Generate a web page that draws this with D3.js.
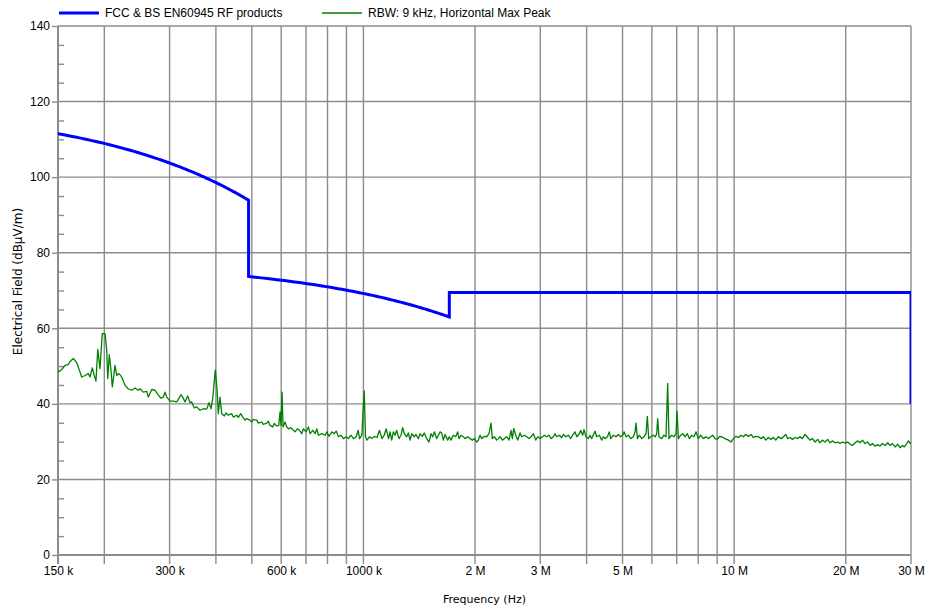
<!DOCTYPE html>
<html>
<head>
<meta charset="utf-8">
<script src="https://cdn.jsdelivr.net/npm/d3@7"></script>
<style>
  body { margin: 0; background: #fff; }
  svg text { font-family: "Liberation Sans", Arial, sans-serif; font-size: 12px; fill: #000; }
  .title { font-family: "DejaVu Sans", Verdana, sans-serif; font-size: 11px; }
  .title.y { font-size: 12px; }
</style>
</head>
<body>
<svg id="chart" width="931" height="613"></svg>
<script>
// limit line (kHz / dBµV/m)
var limitFreqKHz = [150, 490, 490, 1705, 1705, 30000, 30000];
var limitLevel = [111.5, 93.9, 73.7, 63.0, 69.5, 69.5, 40];

var traceFreqKHz = [
  150, 153.5, 156.7, 159.9, 161.6, 165, 168.5, 172, 173.8, 177.4, 181.1, 183, 185.6, 187.9, 189.9, 192, 194.7, 197.5, 200.9, 203,
  204.3, 206.3, 208.5, 210.2, 213.8, 216, 218.2, 220.5, 222.8, 227.4, 232.1, 237.1, 242, 247, 249.6, 254.8, 260.3, 262.9, 268.5, 274,
  279.7, 284.5, 288.6, 291.6, 294.7, 300.8, 307, 313.5, 316.7, 322, 326.7, 330.1, 335.7, 340.6, 344.2, 349.8, 355.1, 362.4, 369.9, 377.7,
  383.2, 388, 392.1, 398.5, 402.7, 406, 410.3, 414.7, 421.5,
  425.9, 432, 441.2, 445.7, 455.2, 459.7, 466.6, 472.5, 479.3, 484.4, 494.4, 499.7, 504.7, 515.4, 520.5, 531.6, 536.9, 548.4, 553.9, 559.8,
  569.3, 575.1, 583.7, 591, 595.8, 599.5, 603.3, 607, 614.6, 621.1, 627.4, 636.7, 647.1, 654, 663.4, 671.8, 681.9, 688.7, 700.4, 710.5,
  718.1, 730.2, 740.8, 748.7, 756.2, 772.3, 788.4, 796.8, 806.8, 822, 834, 844.4, 856.5, 869.4, 883.5, 898.5, 911.4, 925.1, 940.2, 956.1,
  968.1, 976, 990.6, 996.9, 1005, 1013, 1022, 1039, 1054, 1070, 1088, 1105, 1122, 1138, 1152, 1169,
  1180, 1192, 1204, 1217, 1229, 1247, 1263, 1276, 1289, 1308, 1322, 1336, 1350, 1372, 1386, 1407, 1421, 1442, 1460, 1481,
  1503, 1522, 1538, 1554, 1576, 1593, 1610, 1626, 1643, 1660, 1688, 1705, 1723, 1748, 1774, 1796, 1811, 1834, 1861, 1880,
  1911, 1939, 1968, 1992, 2021, 2042, 2063, 2085, 2120, 2151, 2182, 2209, 2227, 2255, 2288, 2312, 2336, 2370, 2400, 2435,
  2471, 2501, 2522, 2543, 2575, 2607, 2645, 2673, 2718, 2758, 2798, 2832, 2874, 2916, 2952, 2995, 3039, 3077, 3122, 3168,
  3207, 3254,
  3287, 3321, 3377, 3426, 3462, 3520, 3571, 3623, 3668, 3722, 3761, 3824, 3855, 3904, 3936, 3985, 4043, 4085, 4128, 4215,
  4258, 4330, 4393, 4439, 4485, 4551, 4607, 4646, 4722, 4801, 4872, 4943, 5005, 5047, 5110, 5184, 5260, 5349, 5404, 5437,
  5483, 5550, 5632, 5714, 5785, 5833, 5882, 5955, 6055, 6130, 6181, 6219, 6271, 6376, 6469, 6550, 6618, 6673, 6785, 6885,
  6971, 7014, 7072, 7176, 7266, 7372, 7480, 7573, 7684, 7796, 7892, 8007, 8125, 8261, 8399, 8521, 8646, 8754, 8881, 9011,
  9124,
  9258, 9452, 9650, 9811, 9953, 10099, 10268, 10439, 10592, 10747, 10926, 11108, 11270, 11435, 11627, 11820, 11994, 12169, 12372, 12579,
  12763, 12950, 13163, 13383, 13579, 13778, 13950, 14155, 14362, 14602, 14847, 15063, 15284, 15535, 15795, 16027, 16260, 16532, 16808, 17050,
  17300, 17589, 17883, 18145, 18410, 18719, 19032, 19310, 19591, 19919, 20252, 20548, 20849, 21197, 21552, 21866, 22182, 22553, 22930, 23266,
  23606, 24001, 24402, 24756, 25118, 25539, 25966, 26345, 26731, 27177, 27632, 28037, 28447, 28796, 29213, 29517, 29887, 30000
];
var traceLevel = [
  48.4, 49.1, 50.2, 50.4, 51.2, 52.0, 50.9, 48.4, 47.1, 47.5, 48.0, 47.1, 49.5, 47.5, 46.0, 54.4, 49.3, 58.6, 58.6, 54.1,
  46.7, 53.0, 48.9, 44.5, 50.2, 47.5, 48.0, 47.7, 47.1, 44.9, 44.0, 43.6, 44.2, 43.6, 44.0, 43.1, 43.3, 41.8, 43.8, 43.6,
  42.3, 41.5, 41.8, 43.1, 41.8, 40.7, 40.7, 40.5, 41.2, 42.4, 41.5, 40.5, 42.1, 40.3, 40.5, 38.9, 39.2, 38.3, 38.7, 38.6,
  40.3, 38.7, 41.4, 49.0, 44.0, 37.4, 41.8, 37.4, 36.8,
  37.6, 37.0, 37.4, 36.5, 37.0, 36.4, 37.4, 36.5, 35.7, 36.1, 35.7, 35.2, 35.8, 35.7, 34.9, 35.2, 34.6, 34.9, 35.4, 34.3,
  33.9, 34.8, 34.1, 34.3, 37.9, 34.3, 43.1, 33.9, 35.2, 33.9, 33.4, 33.7, 33.0, 32.6, 33.4, 33.0, 32.1, 33.4, 32.6, 33.9,
  32.1, 33.0, 32.1, 33.4, 31.7, 32.1, 31.7, 32.6, 31.4, 32.6, 32.1, 32.8, 31.3, 31.7, 30.8, 31.3, 30.8, 31.7, 30.8, 31.3,
  33.0, 30.8, 31.7, 37.4, 43.4, 31.3, 30.4, 31.3, 30.8, 31.4, 31.1, 33.0, 30.8, 31.7, 33.4, 30.8,
  32.6, 30.4, 32.6, 31.7, 33.0, 30.8, 31.7, 33.7, 32.1, 31.3, 32.3, 30.4, 32.1, 31.3, 31.9, 30.8, 32.1, 31.4, 32.3, 30.8,
  29.9, 32.1, 31.3, 32.6, 30.8, 31.7, 32.6, 32.3, 30.4, 31.9, 30.4, 31.3, 30.4, 31.7, 31.3, 32.6, 30.8, 31.7, 31.3, 30.8,
  31.3, 30.8, 30.4, 30.8, 29.9, 30.4, 31.7, 30.8, 31.4, 31.3, 32.1, 34.9, 30.8, 31.3, 30.4, 30.8, 31.3, 30.4, 30.8, 31.3,
  30.4, 33.0, 30.8, 33.5, 31.7, 30.4, 32.3, 31.3, 31.7, 31.3, 30.8, 31.3, 32.1, 30.4, 31.3, 30.8, 31.3, 31.7, 31.3, 31.7,
  30.8, 31.3,
  32.1, 31.3, 31.7, 31.1, 31.9, 31.3, 31.7, 30.8, 31.7, 32.6, 31.3, 32.1, 33.0, 31.7, 33.2, 31.3, 30.8, 31.7, 30.8, 32.8,
  31.3, 31.7, 30.4, 31.3, 30.8, 31.3, 32.6, 30.8, 31.7, 31.3, 31.9, 31.3, 31.7, 32.6, 31.3, 31.7, 30.8, 31.3, 32.6, 34.9,
  30.8, 31.7, 30.8, 31.3, 32.1, 36.7, 30.8, 31.3, 31.7, 31.3, 32.1, 36.1, 31.3, 30.8, 31.7, 31.3, 45.4, 30.8, 31.7, 31.3,
  32.1, 38.1, 30.8, 31.7, 32.1, 31.3, 32.1, 30.8, 31.7, 31.3, 32.6, 30.8, 31.7, 30.8, 31.3, 30.8, 31.3, 31.7, 30.8, 30.6,
  31.3,
  31.3, 30.8, 30.4, 29.9, 30.8, 31.4, 31.1, 31.7, 31.3, 31.9, 31.4, 31.9, 31.1, 31.4, 31.3, 30.8, 31.3, 30.4, 31.1, 30.6,
  31.1, 30.4, 31.3, 30.8, 31.3, 31.9, 30.8, 31.1, 30.6, 31.1, 30.8, 31.3, 30.8, 31.9, 31.1, 30.4, 30.8, 29.9, 30.6, 29.7,
  30.4, 29.9, 30.6, 29.7, 30.2, 29.7, 29.9, 29.5, 29.9, 29.7, 29.9, 29.3, 29.0, 29.7, 30.2, 29.7, 30.4, 29.5, 29.9, 29.0,
  29.5, 28.8, 29.2, 28.8, 29.5, 29.0, 29.7, 29.0, 29.5, 28.6, 29.3, 28.4, 29.0, 28.6, 29.5, 30.2, 29.5, 29.8
];

var seriesNames = ["FCC & BS EN60945 RF products", "RBW: 9 kHz, Horizontal Max Peak"];
var seriesColors = ["#0000ff", "#008000"];

var xGridFreqKHz = [200, 300, 400, 500, 600, 700, 800, 900, 1000, 2000, 3000, 4000, 5000, 6000, 7000, 8000, 9000, 10000, 20000, 30000];
var xLabelFreqKHz = [150, 300, 600, 1000, 2000, 3000, 5000, 10000, 20000, 30000];
var xLabelText = ["150 k", "300 k", "600 k", "1000 k", "2 M", "3 M", "5 M", "10 M", "20 M", "30 M"];
var yMajorTicks = [0, 20, 40, 60, 80, 100, 120, 140];
var yMinorTicks = [5, 10, 15, 25, 30, 35, 45, 50, 55, 65, 70, 75, 85, 90, 95, 105, 110, 115, 125, 130, 135];

var plotLeft = 58, plotRight = 911, plotTop = 26, plotBottom = 555;
var gridColor = "#8c8c8c";

var svg = d3.select("#chart");

var xScale = d3.scaleLog().domain([150, 30000]).range([plotLeft, plotRight]);
var yScale = d3.scaleLinear().domain([0, 140]).range([plotBottom, plotTop]);

svg.append("clipPath").attr("id", "plotClip")
  .append("rect")
  .attr("x", plotLeft).attr("y", plotTop)
  .attr("width", plotRight - plotLeft).attr("height", plotBottom - plotTop);

// vertical grid, running a little below the axis as tick marks
svg.append("g").selectAll("line")
  .data(xGridFreqKHz)
  .enter().append("line")
  .attr("x1", function (d) { return xScale(d); })
  .attr("x2", function (d) { return xScale(d); })
  .attr("y1", plotTop)
  .attr("y2", plotBottom + 9)
  .attr("stroke", gridColor)
  .attr("stroke-width", 1.4);

// horizontal grid
svg.append("g").selectAll("line")
  .data(yMajorTicks.filter(function (d) { return d > 0; }))
  .enter().append("line")
  .attr("x1", plotLeft)
  .attr("x2", plotRight)
  .attr("y1", function (d) { return yScale(d); })
  .attr("y2", function (d) { return yScale(d); })
  .attr("stroke", gridColor)
  .attr("stroke-width", 1.4);

// x labels
var xAxis = svg.append("g")
  .attr("transform", "translate(0," + plotBottom + ")")
  .call(d3.axisBottom(xScale).tickValues(xLabelFreqKHz).tickSize(0).tickPadding(11)
    .tickFormat(function (d, i) { return xLabelText[i]; }));
xAxis.select(".domain").remove();
xAxis.selectAll("text").attr("font-family", null).attr("font-size", null);

// y axis
var yAxis = svg.append("g")
  .attr("transform", "translate(" + plotLeft + ",0)")
  .call(d3.axisLeft(yScale).tickValues(yMajorTicks).tickSize(6).tickPadding(2));
yAxis.select(".domain").remove();
yAxis.selectAll("line").attr("stroke", gridColor).attr("stroke-width", 1.4);
yAxis.selectAll("text").attr("font-family", null).attr("font-size", null);

var yMinor = svg.append("g")
  .attr("transform", "translate(" + plotLeft + ",0)")
  .call(d3.axisRight(yScale).tickValues(yMinorTicks).tickSize(6).tickFormat(""));
yMinor.select(".domain").remove();
yMinor.selectAll("line").attr("stroke", gridColor).attr("stroke-width", 1.4);

// axis lines
svg.append("line")
  .attr("x1", plotLeft).attr("x2", plotLeft).attr("y1", plotTop).attr("y2", plotBottom + 9)
  .attr("stroke", gridColor).attr("stroke-width", 2);
svg.append("line")
  .attr("x1", plotLeft).attr("x2", plotRight).attr("y1", plotBottom).attr("y2", plotBottom)
  .attr("stroke", gridColor).attr("stroke-width", 2);

// measured trace
var traceLine = d3.line()
  .x(function (d) { return xScale(d[0]); })
  .y(function (d) { return yScale(d[1]); });

svg.append("path")
  .datum(d3.zip(traceFreqKHz, traceLevel))
  .attr("clip-path", "url(#plotClip)")
  .attr("fill", "none")
  .attr("stroke", seriesColors[1])
  .attr("stroke-width", 1.3)
  .attr("stroke-linejoin", "round")
  .attr("d", traceLine);

// limit: the analyser joins its points straight in linear Hz, so the
// segments bend on the log axis; split each one up for drawing
function straightInHz(fs, vs) {
  var pts = [];
  for (var i = 0; i < fs.length - 1; i++) {
    var n = fs[i + 1] === fs[i] ? 1 : 60;
    for (var k = 0; k < n; k++) {
      var t = k / n;
      pts.push([fs[i] + (fs[i + 1] - fs[i]) * t, vs[i] + (vs[i + 1] - vs[i]) * t]);
    }
  }
  pts.push([fs[fs.length - 1], vs[vs.length - 1]]);
  return pts;
}

svg.append("path")
  .datum(straightInHz(limitFreqKHz, limitLevel))
  .attr("clip-path", "url(#plotClip)")
  .attr("fill", "none")
  .attr("stroke", seriesColors[0])
  .attr("stroke-width", 3)
  .attr("d", traceLine);

// titles
svg.append("text")
  .attr("class", "title")
  .attr("x", (plotLeft + plotRight) / 2)
  .attr("y", 603)
  .attr("text-anchor", "middle")
  .text("Frequency (Hz)");

svg.append("text")
  .attr("class", "title y")
  .attr("transform", "translate(22," + ((plotTop + plotBottom) / 2 - 9) + ")rotate(-90)")
  .attr("text-anchor", "middle")
  .text("Electrical Field (dBµV/m)");

// legend
var legendX = [59, 322];
var legendW = [3, 1.3];
var legend = svg.append("g").selectAll("g")
  .data(seriesNames)
  .enter().append("g")
  .attr("transform", function (d, i) { return "translate(" + legendX[i] + ",13)"; });
legend.append("line")
  .attr("x1", 0).attr("x2", 40)
  .attr("stroke", function (d, i) { return seriesColors[i]; })
  .attr("stroke-width", function (d, i) { return legendW[i]; });
legend.append("text")
  .attr("x", 46)
  .attr("dy", "0.35em")
  .text(function (d) { return d; });
</script>
</body>
</html>
